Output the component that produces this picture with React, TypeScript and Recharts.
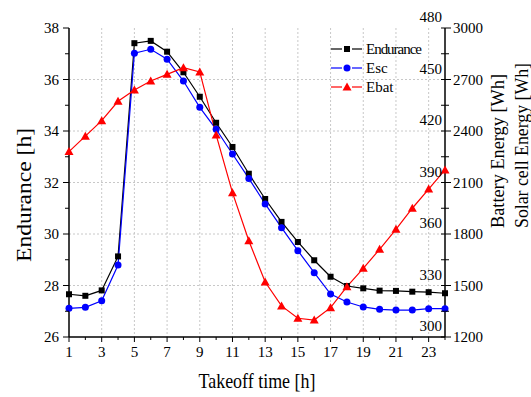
import React from 'react'
import { ComposedChart, Line, XAxis, YAxis, CartesianGrid, Legend } from 'recharts'

const hours = [1, 2, 3, 4, 5, 6, 7, 8, 9, 10, 11, 12, 13, 14, 15, 16, 17, 18, 19, 20, 21, 22, 23, 24]
const endurance = [27.66, 27.6, 27.81, 29.13, 37.41, 37.5, 37.08, 36.28, 35.33, 34.32, 33.38, 32.34, 31.36, 30.47, 29.69, 28.98, 28.34, 27.98, 27.89, 27.8, 27.79, 27.76, 27.74, 27.7]
const esc = [316.7, 317.3, 321.1, 341.9, 465.3, 467.6, 461.8, 449.1, 433.8, 421.0, 406.6, 392.4, 377.5, 363.7, 350.3, 337.5, 325.0, 320.4, 317.5, 316.1, 315.7, 315.7, 316.5, 316.5]
const ebat = [2280, 2370, 2460, 2573, 2639, 2691, 2730, 2769, 2744, 2377, 2041, 1761, 1520, 1381, 1309, 1299, 1371, 1493, 1600, 1711, 1827, 1950, 2062, 2173]

const hourTicks = [1, 2, 3, 4, 5, 6, 7, 8, 9, 10, 11, 12, 13, 14, 15, 16, 17, 18, 19, 20, 21, 22, 23, 24]
const hourGrid = [3, 5, 7, 9, 11, 13, 15, 17, 19, 21, 23]
const enduranceTicks = [26, 27, 28, 29, 30, 31, 32, 33, 34, 35, 36, 37, 38]
const enduranceGrid = [28, 30, 32, 34, 36]
const batteryTicks = [1200, 1350, 1500, 1650, 1800, 1950, 2100, 2250, 2400, 2550, 2700, 2850, 3000]
const solarLabels = [300, 330, 360, 390, 420, 450, 480]

const data = hours.map((h, i) => ({ hour: h, endurance: endurance[i], esc: esc[i], ebat: ebat[i] }))

const FONT = "'Liberation Serif', 'Times New Roman', serif"
const txt = (size: number) => ({ fontFamily: FONT, fontSize: size, fill: '#000' })

const Square = (p: any) => (
  <rect key={`sq-${p.index}`} x={p.cx - 3} y={p.cy - 3} width={6} height={6} fill="#000" />
)
const Circle = (p: any) => (
  <circle key={`ci-${p.index}`} cx={p.cx} cy={p.cy} r={3.5} fill="#0000ff" />
)
const Tri = (p: any) => (
  <polygon
    key={`tr-${p.index}`}
    points={`${p.cx},${p.cy - 4.5} ${p.cx - 4.5},${p.cy + 3.5} ${p.cx + 4.5},${p.cy + 3.5}`}
    fill="#ff0000"
  />
)

const BottomTick = (p: any) => {
  const v = p.payload.value
  const major = v % 2 === 1
  return (
    <g>
      <line x1={p.x} x2={p.x} y1={p.y} y2={p.y + (major ? 5 : 3)} stroke="#000" />
      {major && (
        <text x={p.x} y={p.y + 20} textAnchor="middle" style={txt(15)}>
          {v}
        </text>
      )}
    </g>
  )
}

const TopTick = (p: any) => {
  const v = p.payload.value
  const major = v % 2 === 1
  return <line x1={p.x} x2={p.x} y1={p.y} y2={p.y + (major ? 5 : 3)} stroke="#000" />
}

const LeftTick = (p: any) => {
  const v = p.payload.value
  const major = v % 2 === 0
  return (
    <g>
      <line x1={p.x - (major ? 6 : 4)} x2={p.x} y1={p.y} y2={p.y} stroke="#000" />
      {major && (
        <text x={p.x - 10} y={p.y + 5} textAnchor="end" style={txt(15)}>
          {v}
        </text>
      )}
    </g>
  )
}

const RightTick = (p: any) => {
  const v = p.payload.value
  const major = (v - 1200) % 300 === 0
  const solar = solarLabels[(v - 1200) / 300]
  return (
    <g>
      <line x1={p.x - 4} x2={p.x + (major ? 6 : 4)} y1={p.y} y2={p.y} stroke="#000" />
      {major && (
        <text x={p.x + 8} y={p.y + 5} textAnchor="start" style={txt(15)}>
          {v}
        </text>
      )}
      {major && (
        <text x={p.x - 3} y={p.y - 6} textAnchor="end" style={txt(15)}>
          {solar}
        </text>
      )}
    </g>
  )
}

const legendItems = [
  { name: 'Endurance', color: '#000', shape: 'square' },
  { name: 'Esc', color: '#0000ff', shape: 'circle' },
  { name: 'Ebat', color: '#ff0000', shape: 'tri' },
]

const LegendBox = () => (
  <svg width={110} height={62}>
    {legendItems.map((it, i) => {
      const y = 11 + i * 19
      const m = 21
      return (
        <g key={it.name}>
          <line x1={5} x2={16} y1={y} y2={y} stroke={it.color} strokeWidth={1.2} />
          <line x1={26} x2={36} y1={y} y2={y} stroke={it.color} strokeWidth={1.2} />
          {it.shape === 'square' && <rect x={m - 3} y={y - 3} width={6} height={6} fill={it.color} />}
          {it.shape === 'circle' && <circle cx={m} cy={y} r={3.5} fill={it.color} />}
          {it.shape === 'tri' && (
            <polygon points={`${m},${y - 4.5} ${m - 4.5},${y + 3.5} ${m + 4.5},${y + 3.5}`} fill={it.color} />
          )}
          <text x={40} y={y + 5} style={txt(15)} textLength={it.name === 'Endurance' ? 56 : undefined}>
            {it.name}
          </text>
        </g>
      )
    })}
  </svg>
)

export default function App() {
  return (
    <div style={{ position: 'absolute', left: 0, top: 0, background: '#fff', fontFamily: FONT }}>
      <ComposedChart
        width={531}
        height={397}
        data={data}
        margin={{ top: 28, right: 0, bottom: 0, left: 0 }}
        style={{ fontFamily: FONT }}
      >
        <CartesianGrid
          xAxisId="x"
          yAxisId="end"
          stroke="#c8c8c8"
          strokeDasharray="2 2"
          verticalValues={hourGrid}
          horizontalValues={enduranceGrid}
        />
        <XAxis
          xAxisId="x"
          dataKey="hour"
          type="number"
          domain={[1, 24]}
          ticks={hourTicks}
          interval={0}
          height={60}
          tickSize={0}
          tickMargin={0}
          tickLine={false}
          tick={BottomTick}
          axisLine={{ stroke: '#000', strokeWidth: 1.5 }}
          label={{
            content: (props: any) => (
              <text
                x={props.viewBox.x + props.viewBox.width / 2}
                y={props.viewBox.y + 51}
                textAnchor="middle"
                textLength={117}
                lengthAdjust="spacingAndGlyphs"
                style={txt(21)}
              >
                Takeoff time [h]
              </text>
            ),
          }}
        />
        <XAxis
          xAxisId="top"
          orientation="top"
          dataKey="hour"
          type="number"
          domain={[1, 24]}
          ticks={hourTicks}
          interval={0}
          height={0}
          tickSize={0}
          tickMargin={0}
          tickLine={false}
          tick={TopTick}
          axisLine={{ stroke: '#000', strokeWidth: 1.5 }}
        />
        <YAxis
          yAxisId="end"
          domain={[26, 38]}
          ticks={enduranceTicks}
          interval={0}
          width={69}
          tickSize={0}
          tickMargin={0}
          tickLine={false}
          tick={LeftTick}
          axisLine={{ stroke: '#000', strokeWidth: 1.5 }}
          label={{
            content: (props: any) => {
              const cx = props.viewBox.x + 23
              const cy = 195
              return (
                <text
                  x={cx}
                  y={cy}
                  transform={`rotate(-90 ${cx} ${cy})`}
                  textAnchor="middle"
                  dominantBaseline="central"
                  textLength={134}
                  lengthAdjust="spacingAndGlyphs"
                  style={txt(22)}
                >
                  Endurance [h]
                </text>
              )
            },
          }}
        />
        <YAxis yAxisId="esc" hide domain={[300, 480]} />
        <YAxis
          yAxisId="bat"
          orientation="right"
          domain={[1200, 3000]}
          ticks={batteryTicks}
          interval={0}
          width={86}
          tickSize={0}
          tickMargin={0}
          tickLine={false}
          tick={RightTick}
          axisLine={{ stroke: '#000', strokeWidth: 1.5 }}
          label={{
            content: (props: any) => {
              const x1 = props.viewBox.x + 52
              const x2 = props.viewBox.x + 76
              const y = 228
              return (
                <g>
                  <text
                    x={x1}
                    y={y}
                    transform={`rotate(-90 ${x1} ${y})`}
                    textAnchor="start"
                    dominantBaseline="central"
                    textLength={154}
                    lengthAdjust="spacingAndGlyphs"
                    style={txt(19)}
                  >
                    Battery Energy [Wh]
                  </text>
                  <text
                    x={x2}
                    y={y}
                    transform={`rotate(-90 ${x2} ${y})`}
                    textAnchor="start"
                    dominantBaseline="central"
                    textLength={165}
                    lengthAdjust="spacingAndGlyphs"
                    style={txt(19)}
                  >
                    Solar cell Energy [Wh]
                  </text>
                </g>
              )
            },
          }}
        />
        <Line
          xAxisId="x"
          yAxisId="end"
          dataKey="endurance"
          name="Endurance"
          stroke="#000"
          strokeWidth={1.2}
          dot={Square}
          isAnimationActive={false}
        />
        <Line
          xAxisId="x"
          yAxisId="esc"
          dataKey="esc"
          name="Esc"
          stroke="#0000ff"
          strokeWidth={1.2}
          dot={Circle}
          isAnimationActive={false}
        />
        <Line
          xAxisId="x"
          yAxisId="bat"
          dataKey="ebat"
          name="Ebat"
          stroke="#ff0000"
          strokeWidth={1.2}
          dot={Tri}
          isAnimationActive={false}
        />
        <Legend
          layout="vertical"
          align="center"
          verticalAlign="middle"
          content={LegendBox}
          wrapperStyle={{ left: 326, top: 38, width: 110, height: 62 }}
        />
      </ComposedChart>
    </div>
  )
}
